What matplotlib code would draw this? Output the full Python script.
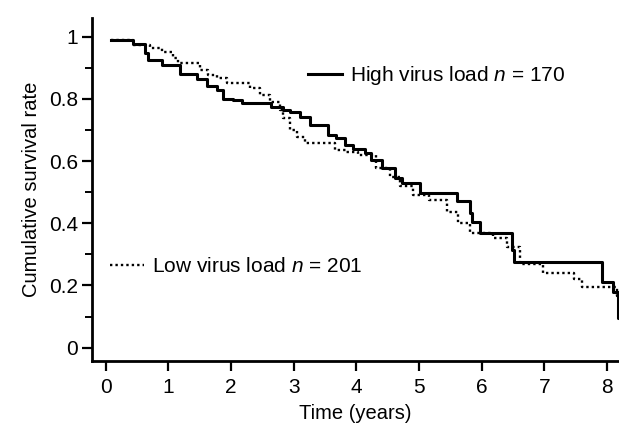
"""Kaplan-Meier style survival curves for high and low virus load groups."""
import matplotlib

matplotlib.use("Agg")
from matplotlib import pyplot as plt
from matplotlib.lines import Line2D
from matplotlib.ticker import MultipleLocator

# high virus load (solid)
high_time = [0.08, 0.43, 0.62, 0.67, 0.89, 1.18, 1.45, 1.61, 1.77, 1.87, 2.03, 2.17,
             2.64, 2.83, 2.94, 3.10, 3.26, 3.55, 3.68, 3.81, 3.95, 4.14, 4.24, 4.40,
             4.62, 4.72, 5.01, 5.60, 5.82, 5.84, 5.97, 6.48, 6.52, 7.92, 8.10, 8.17, 8.19]
high_surv = [0.99, 0.977, 0.947, 0.925, 0.909, 0.88, 0.863, 0.84, 0.829, 0.80, 0.796, 0.786,
             0.773, 0.764, 0.759, 0.743, 0.716, 0.684, 0.673, 0.652, 0.64, 0.625, 0.604, 0.577,
             0.545, 0.529, 0.498, 0.473, 0.432, 0.405, 0.368, 0.314, 0.275, 0.212, 0.18, 0.095, 0.095]

# low virus load (dotted)
low_time = [0.08, 0.44, 0.70, 0.89, 1.08, 1.16, 1.50, 1.63, 1.77, 1.93, 2.30, 2.46, 2.62,
            2.78, 2.83, 2.94, 3.05, 3.18, 3.66, 3.84, 4.03, 4.32, 4.54, 4.70, 4.91, 5.15,
            5.44, 5.62, 5.81, 6.18, 6.40, 6.61, 6.97, 7.47, 7.60, 8.16, 8.19]
low_surv = [0.99, 0.973, 0.965, 0.952, 0.93, 0.914, 0.893, 0.877, 0.866, 0.85, 0.834, 0.813, 0.791,
            0.764, 0.738, 0.70, 0.678, 0.657, 0.636, 0.63, 0.62, 0.577, 0.55, 0.52, 0.491, 0.475,
            0.437, 0.40, 0.368, 0.352, 0.325, 0.268, 0.241, 0.22, 0.194, 0.165, 0.165]

high_label = "High virus load $n$ = 170"
low_label = "Low virus load $n$ = 201"
x_ticks = [0, 1, 2, 3, 4, 5, 6, 7, 8]
y_ticks = [0, 0.2, 0.4, 0.6, 0.8, 1]
y_tick_labels = ["0", "0.2", "0.4", "0.6", "0.8", "1"]

plt.rcParams["font.family"] = ["Liberation Sans", "DejaVu Sans"]
plt.rcParams["mathtext.fontset"] = "custom"
plt.rcParams["mathtext.it"] = "Liberation Sans:italic"
plt.rcParams["mathtext.rm"] = "Liberation Sans"

fig = plt.figure(figsize=(6.19, 4.32), dpi=100)
ax = fig.add_axes([92 / 619, 1 - 361 / 432, 1 - 92 / 619, (361 - 18) / 432])

ax.plot(high_time, high_surv, color="black", linewidth=2.2, drawstyle="steps-post")
ax.plot(low_time, low_surv, color="black", linewidth=1.7, linestyle=(0, (1, 1.3)),
        drawstyle="steps-post")

ax.set_xlim(-0.22, 8.19)
ax.set_ylim(-0.043, 1.06)
ax.set_xticks(x_ticks)
ax.set_yticks(y_ticks)
ax.set_yticklabels(y_tick_labels)
ax.yaxis.set_minor_locator(MultipleLocator(0.1))
ax.tick_params(axis="both", which="major", labelsize=15, width=1.6, length=7, direction="out")
ax.tick_params(axis="y", which="minor", width=1.4, length=5, direction="out")
ax.tick_params(axis="x", pad=5)
ax.tick_params(axis="y", pad=3)

for side in ("top", "right"):
    ax.spines[side].set_visible(False)
for side in ("left", "bottom"):
    ax.spines[side].set_linewidth(2.0)

ax.set_xlabel("Time (years)", fontsize=14.5, labelpad=5)
ax.set_ylabel("Cumulative survival rate", fontsize=14.5, labelpad=6)

legend_kw = dict(frameon=False, fontsize=15, loc="center left", borderpad=0,
                 borderaxespad=0, handlelength=1.65, handletextpad=0.38)
high_handle = Line2D([], [], color="black", linewidth=2.2)
low_handle = Line2D([], [], color="black", linewidth=1.7, linestyle=(0, (1, 1.3)))
leg_high = ax.legend([high_handle], [high_label], bbox_to_anchor=(0.41, 0.832), **legend_kw)
ax.add_artist(leg_high)
ax.legend([low_handle], [low_label], bbox_to_anchor=(0.034, 0.276), **legend_kw)

fig.savefig("out.png", dpi=100)
plt.close(fig)
